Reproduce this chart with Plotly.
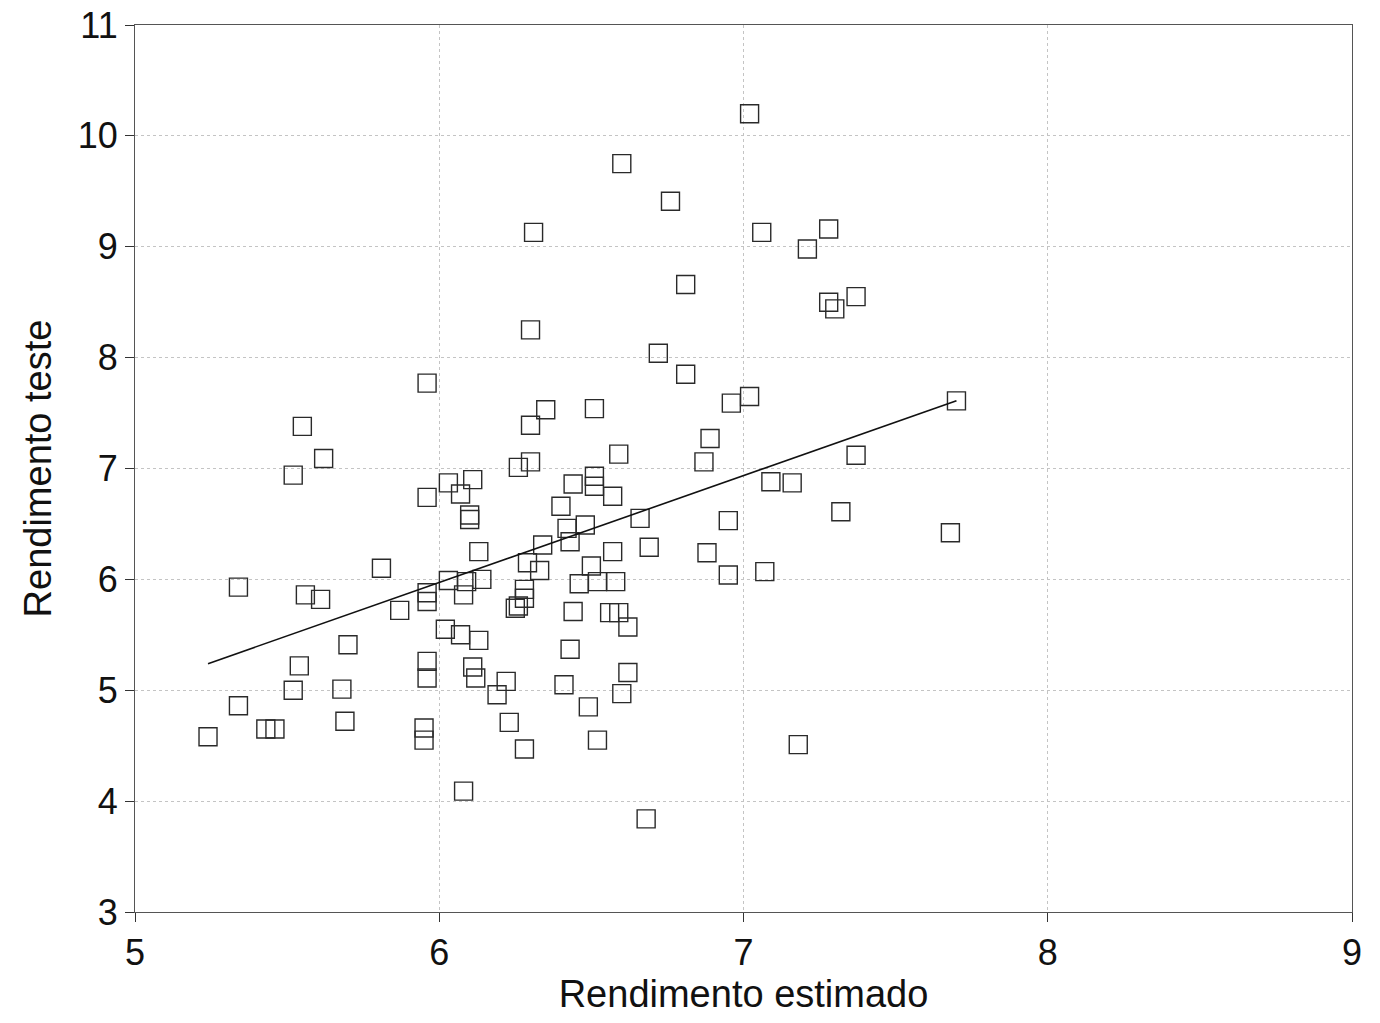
import plotly.graph_objects as go

# Rendimento estimado (x) and Rendimento teste (y)
est = [7.02, 6.60, 6.76, 6.31, 7.06, 7.28, 7.21, 6.81, 7.28, 7.30,
       7.37, 6.30, 6.72, 6.81, 5.96, 6.96, 7.02, 7.70, 5.55, 6.35,
       6.51, 6.30, 6.89, 5.62, 6.59, 6.87, 6.30, 6.26, 7.37, 5.52,
       6.51, 6.51, 6.03, 6.11, 6.44, 6.07, 5.96, 6.57, 7.09, 7.16,
       6.10, 6.10, 6.40, 6.66, 6.95, 7.32, 7.68, 6.48, 6.42, 6.43,
       6.34, 6.69, 6.13, 6.57, 6.88, 6.33, 5.81, 6.50, 6.29, 5.34,
       6.09, 6.03, 6.14, 6.46, 6.58, 6.52, 6.95, 7.07, 6.28, 6.08,
       5.96, 5.96, 5.56, 5.61, 6.28, 6.26, 5.87, 6.44, 6.25, 6.56,
       6.59, 6.62, 6.02, 6.07, 6.13, 5.70, 6.43, 5.96, 5.96, 5.54,
       6.11, 6.12, 6.22, 6.62, 6.41, 5.52, 5.68, 6.19, 6.60, 6.49,
       5.34, 5.69, 6.23, 5.43, 5.46, 5.95, 5.95, 5.24, 6.28, 6.52,
       7.18, 6.08, 6.68]
teste = [10.20, 9.75, 9.41, 9.13, 9.13, 9.16, 8.98, 8.66, 8.50, 8.44,
         8.55, 8.25, 8.04, 7.85, 7.77, 7.59, 7.65, 7.61, 7.38, 7.53,
         7.54, 7.39, 7.27, 7.09, 7.13, 7.06, 7.06, 7.01, 7.12, 6.94,
         6.93, 6.84, 6.87, 6.90, 6.86, 6.77, 6.74, 6.75, 6.88, 6.87,
         6.58, 6.54, 6.66, 6.55, 6.53, 6.61, 6.42, 6.49, 6.46, 6.34,
         6.31, 6.29, 6.25, 6.25, 6.24, 6.08, 6.10, 6.12, 6.15, 5.93,
         5.98, 5.99, 6.00, 5.96, 5.98, 5.98, 6.04, 6.07, 5.91, 5.86,
         5.88, 5.80, 5.86, 5.82, 5.83, 5.76, 5.72, 5.71, 5.74, 5.70,
         5.70, 5.57, 5.55, 5.50, 5.45, 5.41, 5.37, 5.26, 5.11, 5.22,
         5.21, 5.11, 5.08, 5.16, 5.05, 5.00, 5.01, 4.96, 4.97, 4.85,
         4.86, 4.72, 4.71, 4.65, 4.65, 4.66, 4.55, 4.58, 4.47, 4.55,
         4.51, 4.09, 3.84]

# Fitted line end points
fit_x = [5.24, 7.70]
fit_y = [5.24, 7.61]

x_ticks = [5, 6, 7, 8, 9]
y_ticks = [3, 4, 5, 6, 7, 8, 9, 10, 11]

fig = go.Figure()
fig.add_trace(go.Scatter(
    x=est, y=teste, mode="markers",
    marker=dict(symbol="square-open", size=18, color="#2a2a2a",
                line=dict(width=1.4, color="#2a2a2a")),
    showlegend=False, hoverinfo="x+y"))
fig.add_trace(go.Scatter(
    x=fit_x, y=fit_y, mode="lines",
    line=dict(color="#111111", width=1.6),
    showlegend=False, hoverinfo="skip"))

font_family = "Liberation Sans, Arial, sans-serif"
fig.update_layout(
    width=1380, height=1023,
    margin=dict(l=135, r=28, t=25, b=111),
    paper_bgcolor="white", plot_bgcolor="white",
    font=dict(family=font_family, color="#111111"),
    xaxis=dict(
        range=[5, 9], tickvals=x_ticks, ticktext=[str(v) for v in x_ticks],
        showgrid=True, gridcolor="#c4c4c4", griddash="dot", gridwidth=1,
        showline=True, linecolor="#555555", linewidth=1.2, mirror=True,
        ticks="outside", ticklen=9, tickcolor="#333333", automargin=False,
        tickfont=dict(size=36), zeroline=False,
        title=dict(text="Rendimento estimado", font=dict(size=38), standoff=8)),
    yaxis=dict(
        range=[3, 11], tickvals=y_ticks, ticktext=[str(v) for v in y_ticks],
        showgrid=True, gridcolor="#c4c4c4", griddash="dot", gridwidth=1,
        showline=True, linecolor="#555555", linewidth=1.2, mirror=True,
        ticks="outside", ticklen=9, tickcolor="#333333", automargin=False,
        tickfont=dict(size=36), zeroline=False,
        title=dict(text="Rendimento teste", font=dict(size=38), standoff=14)),
)

fig.write_html("out.html")
